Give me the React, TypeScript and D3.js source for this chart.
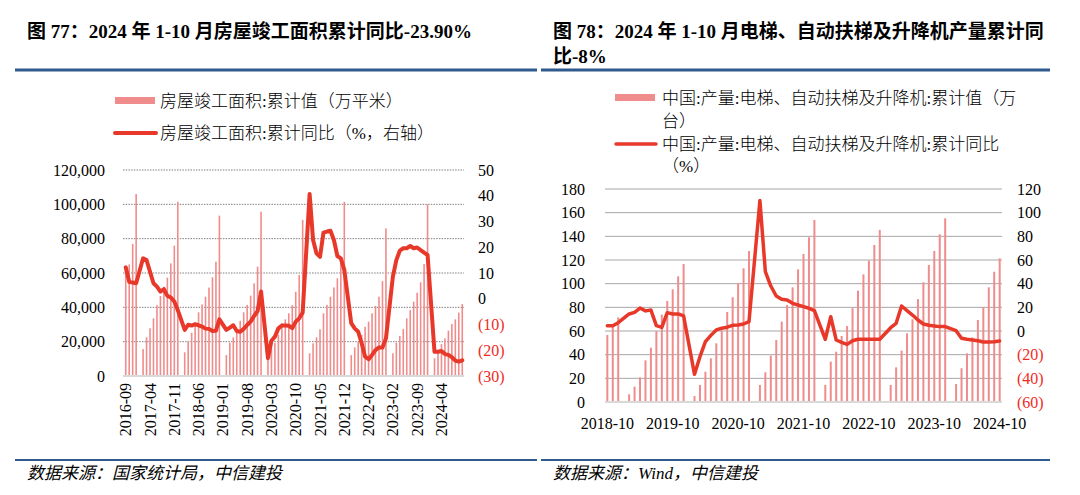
import React from "react";
import * as d3 from "d3";

// ---------- Data: chart 77 (housing completions) ----------
const monthsL: string[] = d3.timeMonth
  .range(new Date(2016, 8, 1), new Date(2024, 10, 1))
  .map(d3.timeFormat("%Y-%m"));

// cumulative completed floor area, 10k m² (Jan not published)
const areaCum: (number | null)[] = [
  63300, 65000, 76900, 106000,
  null, 15700, 22500, 27800, 33600, 41200, 46600, 52000, 57300, 65600, 75900, 101500,
  null, 13800, 20400, 25200, 30700, 37100, 41700, 46200, 51500, 57500, 66600, 93400,
  null, 12200, 19400, 22500, 26800, 32200, 37100, 41400, 46800, 54000, 63700, 95700,
  null, 9600, 15600, 19300, 24000, 30700, 33000, 36500, 41200, 49100, 58800, 90900,
  null, 13200, 19000, 22500, 27200, 36500, 41400, 46200, 51600, 56900, 67600, 101500,
  null, 12200, 16700, 20000, 23900, 28700, 31600, 36500, 40800, 46200, 55300, 86000,
  null, 13200, 19400, 23300, 27400, 33600, 38400, 43300, 48500, 54600, 65200, 100000,
  null, 10300, 14200, 18600, 21900, 26400, 30300, 33000, 36900, 41900,
];
// cumulative YoY, %
const areaYoY: (number | null)[] = [
  12.2, 6.6, 6.3, 6.0,
  null, 15.7, 15.0, 10.5, 6.0, 4.7, 2.8, 3.7, 1.1, 0.5, -1.1, -4.4,
  null, -12.1, -10.1, -10.4, -9.9, -10.3, -10.8, -11.6, -11.7, -12.5, -12.4, -8.0,
  null, -12.1, -11.2, -10.3, -12.5, -12.8, -11.7, -10.2, -8.9, -6.7, -4.8, 2.8,
  null, -23.1, -16.3, -14.7, -11.5, -10.4, -10.4, -10.5, -11.4, -8.9, -7.6, -5.4,
  null, 40.7, 22.8, 17.6, 16.3, 25.7, 26.1, 26.4, 22.8, 16.6, 15.7, 11.2,
  null, -9.5, -11.5, -12.8, -17.3, -22.5, -23.5, -21.8, -19.9, -18.9, -18.9, -15.4,
  null, 8.6, 15.0, 18.7, 19.6, 19.6, 20.5, 19.6, 19.9, 18.9, 17.9, 17.0,
  null, -20.6, -20.6, -20.3, -21.5, -21.8, -22.7, -24.0, -24.4, -23.9,
];
const leftTicksL = [0, 20000, 40000, 60000, 80000, 100000, 120000];
const rightTicksL = [-30, -20, -10, 0, 10, 20, 30, 40, 50];
const xLabelStepL = 7;

// ---------- Data: chart 78 (elevators) ----------
const monthsR: string[] = d3.timeMonth
  .range(new Date(2018, 9, 1), new Date(2024, 10, 1))
  .map(d3.timeFormat("%Y-%m"));
// cumulative output, 10k units
const elevCum: (number | null)[] = [
  56.6, 64.5, 71.5,
  null, 6.5, 13, 20.8, 35.2, 45.9, 60, 73.8, 85.4, 95.2, 106.2, 116.6,
  null, 5.1, 14.4, 25.6, 36.9, 49.6, 60.3, 76.1, 88.5, 100.3, 113, 127.6,
  null, 14.4, 25.1, 39.2, 52.4, 67.9, 82, 96.9, 112.1, 125.1, 139.2, 153.8,
  null, 14.4, 34.1, 42.5, 55.8, 64.2, 79.2, 94.1, 107.9, 119.4, 132.7, 145.4,
  null, 14.4, 29.3, 43.4, 58, 69.9, 87, 101.1, 115.8, 127.6, 141.7, 155.2,
  null, 15.2, 28.5, 41.1, 54.6, 69.3, 80, 96.9, 110.1, 121.4,
];
const elevYoY: (number | null)[] = [
  4.5, 4.5, 7.0,
  null, 14.4, 15.8, 19.4, 17.0, 17.7, 4.5, 3.1, 15.5, 14.4, 14.4, 12.7,
  null, -36.6, -21.7, -9.0, -3.7, 0.9, 2.3, 3.2, 4.8, 5.1, 5.9, 7.9,
  null, 110.2, 50.2, 38.0, 29.6, 26.8, 26.2, 23.4, 22.0, 20.6, 19.2, 17.2,
  null, -7.0, 12.1, -7.6, -9.6, -11.3, -8.2, -7.0, -7.0, -7.0, -7.0, -7.0,
  null, 2.8, 6.5, 21.1, 17.2, 13.5, 9.3, 5.9, 4.8, 4.2, 3.7, 3.7,
  null, 0.3, -6.2, -7.0, -7.6, -8.2, -9.3, -9.3, -9.0, -8.4,
];
const leftTicksR = [0, 20, 40, 60, 80, 100, 120, 140, 160, 180];
const rightTicksR = [-60, -40, -20, 0, 20, 40, 60, 80, 100, 120];
const xLabelStepR = 12;

// ---------- Styles ----------
const BAR = "#F08C8C";
const LINE = "#E8382A";
const NEG = "#F02B1F";
const RULE = "#2E5A8E";
const SERIF = "'Liberation Serif', 'Times New Roman', serif";
const CJK = "'Liberation Serif', 'Noto Sans CJK SC', sans-serif";

const fmtRight = (v: number) => (v < 0 ? `(${Math.abs(v)})` : `${v}`);

export default function App() {
  // ----- left chart scales -----
  const plotL = { x0: 123, x1: 464, yTop: 170, yBot: 376 };
  const xL = d3.scaleBand<string>().domain(monthsL).range([124, 464]).padding(0);
  const yL = d3.scaleLinear().domain([0, 120000]).range([plotL.yBot, plotL.yTop]);
  const yL2 = d3.scaleLinear().domain([-30, 50]).range([plotL.yBot, plotL.yTop]);
  const cxL = (m: string) => (xL(m) as number) + xL.bandwidth() / 2;
  const lineL = d3
    .line<[string, number | null]>()
    .x((d) => cxL(d[0]))
    .y((d) => yL2(d[1] as number))
    .curve(d3.curveLinear);
  const ptsL = monthsL.map((m, i) => [m, areaYoY[i]] as [string, number | null]).filter((d) => d[1] !== null);

  // ----- right chart scales -----
  const plotR = { x0: 605, x1: 1002, yTop: 189, yBot: 402 };
  const xR = d3.scaleBand<string>().domain(monthsR).range([604.6, 1002.4]).padding(0);
  const yR = d3.scaleLinear().domain([0, 180]).range([plotR.yBot, plotR.yTop]);
  const yR2 = d3.scaleLinear().domain([-60, 120]).range([plotR.yBot, plotR.yTop]);
  const cxR = (m: string) => (xR(m) as number) + xR.bandwidth() / 2;
  const lineR = d3
    .line<[string, number | null]>()
    .x((d) => cxR(d[0]))
    .y((d) => yR2(d[1] as number));
  const ptsR = monthsR.map((m, i) => [m, elevYoY[i]] as [string, number | null]).filter((d) => d[1] !== null);

  return (
    <svg
      width={1080}
      height={495}
      style={{ position: "absolute", left: 0, top: 0, background: "#fff" }}
      fontFamily={SERIF}
    >
      <rect x={0} y={0} width={1080} height={495} fill="#fff" />

      {/* ===== Titles ===== */}
      <text x={27} y={38} fontSize={19} fontWeight="bold" fontFamily={CJK}>
        图 77：2024 年 1-10 月房屋竣工面积累计同比-23.90%
      </text>
      <text x={553} y={38} fontSize={19} fontWeight="bold" fontFamily={CJK}>
        图 78：2024 年 1-10 月电梯、自动扶梯及升降机产量累计同
      </text>
      <text x={553} y={63} fontSize={19} fontWeight="bold" fontFamily={CJK}>
        比-8%
      </text>
      <line x1={15} x2={537} y1={70} y2={70} stroke={RULE} strokeWidth={3} />
      <line x1={541} x2={1050} y1={70} y2={70} stroke={RULE} strokeWidth={3} />
      <line x1={15} x2={537} y1={460} y2={460} stroke={RULE} strokeWidth={2} />
      <line x1={541} x2={1050} y1={460} y2={460} stroke={RULE} strokeWidth={2} />

      {/* ===== Sources ===== */}
      <text x={27} y={479} fontSize={17} fontStyle="italic" fontFamily={CJK}>
        数据来源：国家统计局，中信建投
      </text>
      <text x={553} y={479} fontSize={17} fontStyle="italic" fontFamily={CJK}>
        数据来源：Wind，中信建投
      </text>

      {/* ===== Left legend ===== */}
      <rect x={115} y={97} width={40} height={7} fill={BAR} />
      <text x={160} y={101} fontSize={17} dominantBaseline="central" fontFamily={CJK} fontWeight={300}>
        房屋竣工面积:累计值（万平米）
      </text>
      <line x1={115} x2={156} y1={133} y2={133} stroke={LINE} strokeWidth={4} strokeLinecap="round" />
      <text x={160} y={133} fontSize={17} dominantBaseline="central" fontFamily={CJK} fontWeight={300}>
        房屋竣工面积:累计同比（%，右轴）
      </text>

      {/* ===== Left chart ===== */}
      {leftTicksL.filter((t) => t > 0).map((t) => (
        <line key={t} x1={plotL.x0} x2={plotL.x1} y1={yL(t)} y2={yL(t)} stroke="#7F7F7F" strokeWidth={1} strokeDasharray="1.5 1.2" />
      ))}
      {monthsL.map((m, i) =>
        areaCum[i] === null ? null : (
          <rect key={m} x={cxL(m) - 0.8} width={1.6} y={yL(areaCum[i] as number)} height={yL(0) - yL(areaCum[i] as number)} fill={BAR} />
        )
      )}
      <line x1={plotL.x0} x2={plotL.x1} y1={yL(0)} y2={yL(0)} stroke="#D9D9D9" strokeWidth={2} />
      <path d={lineL(ptsL) as string} fill="none" stroke={LINE} strokeWidth={4} strokeLinejoin="round" strokeLinecap="round" />
      {leftTicksL.map((t) => (
        <text key={t} x={105} y={yL(t)} fontSize={16} textAnchor="end" dominantBaseline="central">
          {d3.format(",")(t)}
        </text>
      ))}
      {rightTicksL.map((t) => (
        <text key={t} x={478} y={yL2(t)} fontSize={16} textAnchor="start" dominantBaseline="central" fill={t < 0 ? NEG : "#000"}>
          {fmtRight(t)}
        </text>
      ))}
      {monthsL.filter((_, i) => i % xLabelStepL === 0).map((m) => (
        <text key={m} transform={`translate(${cxL(m)},383) rotate(-90)`} fontSize={16} textAnchor="end" dominantBaseline="central">
          {m}
        </text>
      ))}

      {/* ===== Right legend ===== */}
      <rect x={615} y={94} width={40} height={7} fill={BAR} />
      <text x={662} y={98} fontSize={17} dominantBaseline="central" fontFamily={CJK} fontWeight={300}>
        中国:产量:电梯、自动扶梯及升降机:累计值（万
      </text>
      <text x={662} y={121} fontSize={17} dominantBaseline="central" fontFamily={CJK} fontWeight={300}>
        台）
      </text>
      <line x1={616} x2={656} y1={144} y2={144} stroke={LINE} strokeWidth={3.5} strokeLinecap="round" />
      <text x={662} y={144} fontSize={17} dominantBaseline="central" fontFamily={CJK} fontWeight={300}>
        中国:产量:电梯、自动扶梯及升降机:累计同比
      </text>
      <text x={662} y={166} fontSize={17} dominantBaseline="central" fontFamily={CJK} fontWeight={300}>
        （%）
      </text>

      {/* ===== Right chart ===== */}
      {leftTicksR.filter((t) => t > 0).map((t) => (
        <line key={t} x1={plotR.x0} x2={plotR.x1} y1={yR(t)} y2={yR(t)} stroke="#A6A6A6" strokeWidth={1} />
      ))}
      {monthsR.map((m, i) =>
        elevCum[i] === null ? null : (
          <rect key={m} x={cxR(m) - 1} width={2} y={yR(elevCum[i] as number)} height={yR(0) - yR(elevCum[i] as number)} fill={BAR} />
        )
      )}
      <line x1={plotR.x0} x2={plotR.x1} y1={yR(0)} y2={yR(0)} stroke="#D9D9D9" strokeWidth={2} />
      <path d={lineR(ptsR) as string} fill="none" stroke={LINE} strokeWidth={3.5} strokeLinejoin="round" strokeLinecap="round" />
      {leftTicksR.map((t) => (
        <text key={t} x={585} y={yR(t)} fontSize={16} textAnchor="end" dominantBaseline="central">
          {t}
        </text>
      ))}
      {rightTicksR.map((t) => (
        <text key={t} x={1017} y={yR2(t)} fontSize={16} textAnchor="start" dominantBaseline="central" fill={t < 0 ? NEG : "#000"}>
          {fmtRight(t)}
        </text>
      ))}
      {monthsR.filter((_, i) => i % xLabelStepR === 0).map((m) => (
        <text key={m} x={cxR(m)} y={429} fontSize={16} textAnchor="middle">
          {m}
        </text>
      ))}
    </svg>
  );
}
